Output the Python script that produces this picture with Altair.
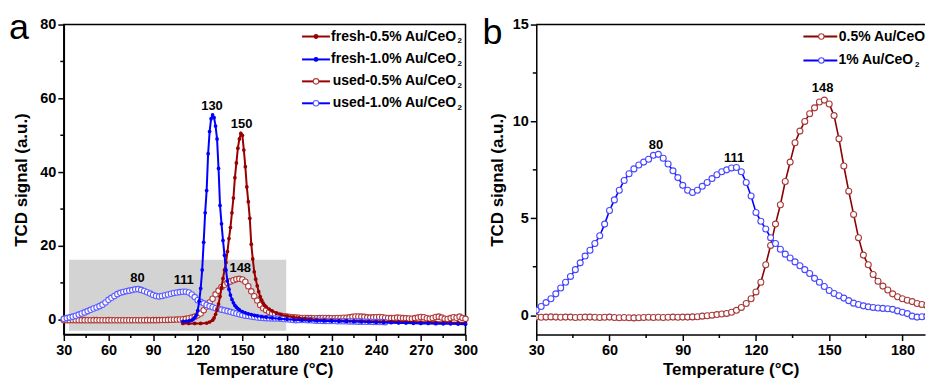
import altair as alt
import pandas as pd

FONT = "Liberation Sans"

# ---------------- data ----------------
# used samples (shared by panel a "used" curves and panel b)
T_used = [30, 32, 34, 36, 38, 40, 42, 44, 46, 48, 50, 52, 54, 56, 58, 60, 62, 64, 66, 68,
          70, 72, 74, 76, 78, 80, 82, 84, 86, 88, 90, 92, 94, 96, 98, 100, 102, 104, 106, 108,
          110, 112, 114, 116, 118, 120, 122, 124, 126, 128, 130, 132, 134, 136, 138, 140, 142, 144, 146, 148,
          150, 152, 154, 156, 158, 160, 162, 164, 166, 168, 170, 172, 174, 176, 178, 180, 182, 184, 186, 188,
          190, 192]
used05 = [-0.10, -0.11, -0.10, -0.09, -0.10, -0.11, -0.10, -0.10, -0.12, -0.11, -0.10, -0.10, -0.11, -0.12,
          -0.11, -0.10, -0.12, -0.13, -0.12, -0.13, -0.14, -0.13, -0.12, -0.11, -0.12, -0.11, -0.12, -0.11,
          -0.10, -0.11, -0.10, -0.10, -0.09, -0.08, -0.05, -0.03, 0.00, 0.03, 0.06, 0.09,
          0.15, 0.25, 0.40, 0.60, 0.85, 1.20, 1.70, 2.60, 3.60, 4.70, 5.70, 6.90, 7.90, 8.90, 9.50, 10.00,
          10.40, 10.70, 11.00, 11.10, 10.90, 10.30, 9.10, 7.70, 6.40, 5.20, 4.00, 3.10, 2.60, 2.10, 1.75,
          1.50, 1.30, 1.10, 0.95, 0.85, 0.77, 0.70, 0.60, 0.55, 0.50, 0.48]
used10 = [0.26, 0.45, 0.65, 0.85, 1.10, 1.40, 1.70, 2.00, 2.35, 2.70, 3.05, 3.35, 3.70, 4.10, 4.70, 5.40,
          5.95, 6.45, 6.95, 7.30, 7.55, 7.75, 7.90, 8.05, 8.25, 8.30, 8.10, 7.80, 7.45, 7.10, 6.70, 6.45,
          6.33, 6.45, 6.65, 6.85, 7.05, 7.25, 7.40, 7.50, 7.60, 7.62, 7.40, 6.85, 6.15, 5.30, 4.85, 4.45,
          4.00, 3.70, 3.40, 3.15, 2.95, 2.75, 2.55, 2.35, 2.15, 1.90, 1.70, 1.48, 1.27, 1.12, 1.00, 0.88,
          0.75, 0.62, 0.55, 0.48, 0.43, 0.40, 0.37, 0.35, 0.33, 0.30, 0.22, 0.15, 0.08, -0.05, -0.10, -0.08,
          -0.06, -0.05]
T_used05_ext = [194, 196, 198, 200, 202, 204, 206, 208, 210, 212, 214, 216, 218, 220, 222, 224, 226, 228,
                230, 232, 234, 236, 238, 240, 242, 244, 246, 248, 250, 252, 254, 256, 258, 260, 262, 264,
                266, 268, 270, 272, 274, 276, 278, 280, 282, 284, 286, 288, 290, 292, 294, 296, 298, 300]
used05_ext = [0.45, 0.45, 0.42, 0.40, 0.45, 0.50, 0.48, 0.45, 0.40, 0.42, 0.48, 0.50, 0.55, 0.55, 0.65,
              0.80, 0.90, 0.90, 0.85, 0.80, 0.65, 0.60, 0.65, 0.70, 0.75, 0.70, 0.55, 0.50, 0.45, 0.50,
              0.60, 0.55, 0.45, 0.40, 0.35, 0.30, 0.45, 0.60, 0.75, 0.70, 0.40, 0.30, 0.50, 0.75, 0.85,
              0.60, 0.30, 0.20, 0.45, 0.70, 0.55, 0.85, 0.50, 0.25]
T_used10_ext = [194, 196, 198, 200, 202, 204, 206, 208, 210, 212, 214, 216, 218, 220, 222, 224, 226, 228,
                230, 232, 234, 236, 238, 240, 242, 244, 246]
used10_ext = [-0.10, -0.15, -0.20, -0.25, -0.28, -0.30, -0.30, -0.32, -0.35, -0.35, -0.38, -0.40, -0.40,
              -0.42, -0.45, -0.45, -0.48, -0.50, -0.50, -0.52, -0.55, -0.55, -0.58, -0.60, -0.60, -0.62, -0.65]

T_fresh10 = [110, 112, 114, 116, 117, 118, 119, 120, 121, 122, 123, 124, 125, 126, 127, 128, 129, 130,
             131, 132, 133, 134, 135, 136, 137, 138, 139, 140, 141, 142, 143, 144, 145, 146, 147, 148,
             150, 152, 154, 156, 158, 160, 163, 166, 170, 175, 180, 185, 190, 195, 200, 205, 210, 215,
             220, 225, 230, 235, 240, 245, 250, 255, 260, 265, 270, 275, 280, 285, 290, 295, 300]
fresh10 = [-0.4, -0.4, -0.3, -0.1, 0.2, 0.6, 1.2, 2.5, 5.0, 8.5, 13.5, 21, 29, 35, 45, 51, 54.5, 55.5,
           54.8, 52.5, 49, 41, 31, 26, 21.5, 17.5, 13.5, 10.5, 8.3, 6.7, 5.5, 4.6, 3.9, 3.4, 3.0, 2.7,
           2.2, 1.9, 1.6, 1.4, 1.2, 1.05, 0.85, 0.7, 0.5, 0.3, 0.15, 0.0, -0.1, -0.2, -0.25, -0.3, -0.35,
           -0.4, -0.45, -0.5, -0.55, -0.6, -0.7, -0.75, -0.8, -0.85, -0.9, -0.95, -1.0, -1.0, -1.05,
           -1.1, -1.1, -1.15, -1.2]
T_fresh05 = [110, 114, 118, 122, 126, 128, 130, 131, 132, 133, 134, 135, 136, 137, 138, 139, 140, 141,
             142, 143, 144, 145, 146, 147, 148, 149, 150, 151, 152, 153, 154, 155, 156, 157, 158, 159,
             160, 161, 162, 163, 164, 165, 166, 168, 170, 173, 176, 180, 184, 188, 192, 196, 200, 205,
             210, 215, 220, 225, 230, 235, 240, 245, 250, 255, 260, 265, 270, 275, 280, 285, 290, 295, 300]
fresh05 = [-1.0, -1.0, -1.0, -1.0, -0.9, -0.6, -0.1, 0.5, 1.5, 2.7, 4.3, 6.3, 8.7, 11.2, 13.5, 15.5,
           18.5, 22, 25, 29, 33, 38.5, 42.5, 46.5, 49, 50.5, 50.0, 46, 41.5, 36, 32, 27.5, 20.5, 16.5,
           13, 11, 9.2, 7.6, 6.3, 5.3, 4.5, 3.9, 3.5, 2.9, 2.4, 1.8, 1.4, 1.0, 0.75, 0.5, 0.3, 0.15,
           0.0, -0.1, -0.15, -0.2, -0.25, -0.3, -0.35, -0.4, -0.4, -0.45, -0.5, -0.55, -0.6, -0.6,
           -0.65, -0.7, -0.7, -0.75, -0.8, -0.8, -0.85]

# shaded zoom region in panel a
box_T = [33.5, 179.5]
box_v = [-3.0, 16.3]

# peak annotations
peaks_a_T = [129.6, 149.5, 79.5, 110.6, 148.6]
peaks_a_v = [57.9, 53.0, 11.2, 10.8, 13.9]
peaks_a_txt = ["130", "150", "80", "111", "148"]
peaks_b_T = [79.0, 111.0, 147.3]
peaks_b_v = [8.8, 8.1, 11.7]
peaks_b_txt = ["80", "111", "148"]

legend_a = ["fresh-0.5% Au/CeO", "fresh-1.0% Au/CeO", "used-0.5% Au/CeO", "used-1.0% Au/CeO"]
legend_b = ["0.5% Au/CeO", "1% Au/CeO"]

# axis ticks
xa_major = [30, 60, 90, 120, 150, 180, 210, 240, 270, 300]
xa_minor = [45, 75, 105, 135, 165, 195, 225, 255, 285]
ya_major = [0, 20, 40, 60, 80]
ya_minor = [10, 30, 50, 70]
xb_major = [30, 60, 90, 120, 150, 180]
xb_minor = [45, 75, 105, 135, 165]
yb_major = [0, 5, 10, 15]
yb_minor = [2.5, 7.5, 12.5]

# ---------------- styling ----------------
C_F05 = "#990000"
C_F10 = "#0000ff"
C_U05 = "#b03c3c"
C_U10 = "#5c5cff"
C_B05_LINE = "#8b0000"
C_B05_PT = "#a83a3a"
C_B10_LINE = "#0000ff"
C_B10_PT = "#4848ff"

WA, HA = 403, 311
WB, HB = 390, 311
XB_MAX = 30 + WB / 2.449   # same px-per-degree as the reference panel b
X_TITLE_PAD = 5
X_LABEL_PAD = 3

one = pd.DataFrame({"k": [0]})


def make_axis(major, title, title_pad, label_pad):
    return alt.Axis(values=major, format="d", tickSize=6,
                    title=title, titlePadding=title_pad, labelPadding=label_pad,
                    labelFont=FONT, labelFontSize=14.5, labelFontWeight="bold", labelColor="black",
                    titleFont=FONT, titleFontSize=17, titleFontWeight="bold", titleColor="black",
                    domainColor="black", domainWidth=1.5, tickColor="black", tickWidth=1.5,
                    grid=False, labelFlush=False, labelOverlap=False)


def df(T, v):
    return pd.DataFrame({"T": T, "v": v})


def minor_ticks(xvals, yvals, X, Y, h):
    return [
        alt.Chart(pd.DataFrame({"T": xvals})).mark_rule(color="black", strokeWidth=1.5).encode(
            x=X, y=alt.value(h), y2=alt.value(h + 3.5)),
        alt.Chart(pd.DataFrame({"v": yvals})).mark_rule(color="black", strokeWidth=1.5).encode(
            y=Y, x=alt.value(0), x2=alt.value(-3.5)),
    ]


def legend_entry(label, line_color, m_fill, m_stroke, m_size, y, x0, x1, xm, xt, align, sub_x):
    out = [
        alt.Chart(one).mark_rule(color=line_color, strokeWidth=2).encode(
            x=alt.value(x0), x2=alt.value(x1), y=alt.value(y)),
        alt.Chart(one).mark_point(shape="circle", filled=True, fill=m_fill, stroke=m_stroke,
                                  strokeWidth=1.1, size=m_size, opacity=1).encode(
            x=alt.value(xm), y=alt.value(y)),
        alt.Chart(one).mark_text(text=label, align=align, baseline="middle", font=FONT,
                                 fontSize=14, fontWeight="bold", color="black").encode(
            x=alt.value(xt), y=alt.value(y)),
    ]
    if sub_x is not None:
        out.append(alt.Chart(one).mark_text(text="2", align="left", baseline="alphabetic", font=FONT,
                                            fontSize=8, fontWeight="bold", color="black").encode(
            x=alt.value(sub_x), y=alt.value(y + 7)))
    return out


# ---------------- panel a ----------------
sxa = alt.Scale(domain=[30, 300], nice=False, zero=False)
sya = alt.Scale(domain=[-4, 80], nice=False, zero=False)
axa = make_axis(xa_major, "Temperature (°C)", X_TITLE_PAD, X_LABEL_PAD)
aya = make_axis(ya_major, "TCD signal (a.u.)", 9, 2)

XA = alt.X("T:Q", scale=sxa, axis=axa)
YA = alt.Y("v:Q", scale=sya, axis=aya)

box = alt.Chart(pd.DataFrame({"T0": [box_T[0]], "T1": [box_T[1]], "v0": [box_v[0]], "v1": [box_v[1]]})
                ).mark_rect(color="#d3d3d3").encode(
    x=alt.X("T0:Q", scale=sxa, axis=axa), x2="T1:Q",
    y=alt.Y("v0:Q", scale=sya, axis=aya), y2="v1:Q")

u05a = df(T_used + T_used05_ext, used05 + used05_ext)
u10a = df(T_used + T_used10_ext, used10 + used10_ext)
f05 = df(T_fresh05, fresh05)
f10 = df(T_fresh10, fresh10)

layers_a = [box]
for d, col in [(u05a, C_U05), (u10a, C_U10)]:
    layers_a.append(alt.Chart(d).mark_line(color=col, strokeWidth=1).encode(x=XA, y=YA))
    layers_a.append(alt.Chart(d).mark_point(shape="circle", filled=True, fill="white", stroke=col,
                                            strokeWidth=1.1, size=30, opacity=1).encode(x=XA, y=YA))
for d, col in [(f05, C_F05), (f10, C_F10)]:
    layers_a.append(alt.Chart(d).mark_line(color=col, strokeWidth=2).encode(x=XA, y=YA))
    layers_a.append(alt.Chart(d).mark_circle(color=col, size=14, opacity=1).encode(x=XA, y=YA))

layers_a.append(alt.Chart(pd.DataFrame({"T": peaks_a_T, "v": peaks_a_v, "t": peaks_a_txt})).mark_text(
    font=FONT, fontSize=13, fontWeight="bold", color="black", baseline="middle").encode(
    x=XA, y=YA, text="t:N"))

layers_a += minor_ticks(xa_minor, ya_minor, XA, YA, HA)

leg_rows_a = [12, 35, 57, 79]
leg_style_a = [(C_F05, C_F05, C_F05, 14), (C_F10, C_F10, C_F10, 14),
               (C_F05, "white", C_U05, 30), (C_F10, "white", C_U10, 30)]
for lab, yy, (lc, mf, ms, msz) in zip(legend_a, leg_rows_a, leg_style_a):
    layers_a += legend_entry(lab, lc, mf, ms, msz, yy, 239, 267, 253, 393.5, "right", 395)

layers_a.append(alt.Chart(one).mark_text(text="a", align="left", baseline="alphabetic", font=FONT,
                                         fontSize=36, color="black").encode(
    x=alt.value(-55), y=alt.value(14)))
layers_a.append(alt.Chart(one).mark_rect(opacity=0).encode(
    x=alt.value(-55), x2=alt.value(-54), y=alt.value(-15), y2=alt.value(-14)))

panel_a = alt.layer(*layers_a).properties(
    width=WA, height=HA, view=alt.ViewBackground(stroke="black", strokeWidth=1.5))

# ---------------- panel b ----------------
sxb = alt.Scale(domain=[30, XB_MAX], nice=False, zero=False)
syb = alt.Scale(domain=[-1, 15], nice=False, zero=False)
axb = make_axis(xb_major, "Temperature (°C)", X_TITLE_PAD, X_LABEL_PAD)
ayb = make_axis(yb_major, "TCD signal (a.u.)", 6, 2)
XB = alt.X("T:Q", scale=sxb, axis=axb)
YB = alt.Y("v:Q", scale=syb, axis=ayb)

b05 = df(T_used, used05)
b10 = df(T_used, used10)
layers_b = []
for d, lc, pc in [(b05, C_B05_LINE, C_B05_PT), (b10, C_B10_LINE, C_B10_PT)]:
    layers_b.append(alt.Chart(d).mark_line(color=lc, strokeWidth=1.6, clip=True).encode(x=XB, y=YB))
    layers_b.append(alt.Chart(d).mark_point(shape="circle", filled=True, fill="white", stroke=pc,
                                            strokeWidth=1.1, size=36, opacity=1, clip=True).encode(x=XB, y=YB))
layers_b.append(alt.Chart(pd.DataFrame({"T": peaks_b_T, "v": peaks_b_v, "t": peaks_b_txt})).mark_text(
    font=FONT, fontSize=13, fontWeight="bold", color="black", baseline="middle").encode(
    x=XB, y=YB, text="t:N"))

layers_b += minor_ticks(xb_minor, yb_minor, XB, YB, HB)

layers_b += legend_entry(legend_b[0], C_B05_LINE, "white", C_B05_PT, 30, 12, 268, 302, 286, WB, "right", None)
layers_b += legend_entry(legend_b[1], C_B10_LINE, "white", C_B10_PT, 30, 36, 268, 302, 286, 378, "right", 380)

layers_b.append(alt.Chart(one).mark_rule(color="black", strokeWidth=1.5).encode(
    x=alt.value(0), x2=alt.value(WB), y=alt.value(0)))
layers_b.append(alt.Chart(one).mark_text(text="b", align="left", baseline="alphabetic", font=FONT,
                                         fontSize=36, color="black").encode(
    x=alt.value(-54), y=alt.value(20)))

panel_b = alt.layer(*layers_b).properties(width=WB, height=HB)

chart = alt.hconcat(panel_a, panel_b, spacing=71, bounds="flush").properties(
    padding={"left": 0, "top": 0, "right": 0, "bottom": 0}
).configure_view(stroke="transparent")

chart.save("out.html", embed_options={"renderer": "svg", "actions": False})
